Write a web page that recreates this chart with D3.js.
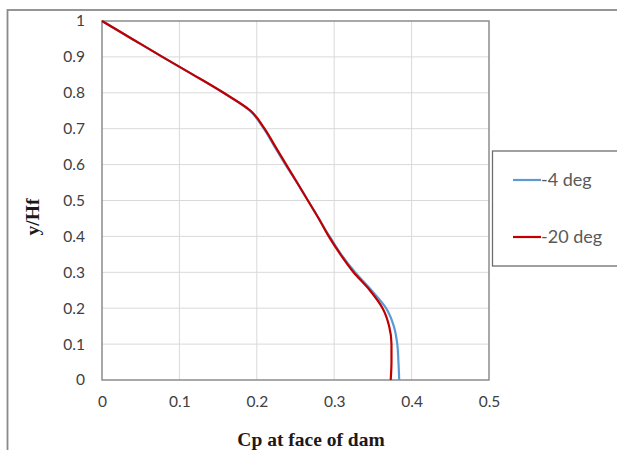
<!DOCTYPE html>
<html>
<head>
<meta charset="utf-8">
<script src="https://cdn.jsdelivr.net/npm/d3@7"></script>
<style>
  body { margin: 0; background: #fff; }
</style>
</head>
<body>
<script>
// y/Hf levels and Cp values
var yLevels = [1, 0.95, 0.9, 0.85, 0.8, 0.75, 0.7, 0.65, 0.6, 0.55, 0.5, 0.45, 0.4, 0.35, 0.3, 0.25, 0.2, 0.15, 0.1, 0.05, 0];
var cpMinus4 = [0, 0.039, 0.078, 0.118, 0.157, 0.191, 0.209, 0.223, 0.237, 0.252, 0.266, 0.280, 0.294, 0.309, 0.327, 0.348, 0.367, 0.377, 0.3815, 0.383, 0.384];
var cpMinus20 = [0, 0.039, 0.078, 0.118, 0.157, 0.192, 0.210, 0.224, 0.238, 0.252, 0.266, 0.280, 0.293, 0.308, 0.325, 0.346, 0.3625, 0.371, 0.374, 0.374, 0.373];
var seriesNames = ['-4 deg', '-20 deg'];
var seriesColors = ['#5b9bd5', '#c00000'];
var xTicks = [0, 0.1, 0.2, 0.3, 0.4, 0.5];
var yTicks = [0, 0.1, 0.2, 0.3, 0.4, 0.5, 0.6, 0.7, 0.8, 0.9, 1];

var width = 617, height = 450;
var tickFont = 'Lato, "Noto Sans", sans-serif';
var titleFont = '"Liberation Serif", "Times New Roman", serif';

var svg = d3.select('body').append('svg')
  .attr('width', width)
  .attr('height', height);

// outer chart frame (runs off the right and bottom)
svg.append('rect')
  .attr('x', 7.5).attr('y', 10)
  .attr('width', 640).attr('height', 480)
  .attr('fill', '#fff')
  .attr('stroke', '#8a8a8a')
  .attr('stroke-width', 1.8);

var x = d3.scaleLinear().domain([0, 0.5]).range([102, 489]);
var y = d3.scaleLinear().domain([0, 1]).range([380, 21]);

// gridlines
svg.append('g').selectAll('line')
  .data(xTicks.slice(1, -1))
  .enter().append('line')
  .attr('x1', function(d) { return x(d); })
  .attr('x2', function(d) { return x(d); })
  .attr('y1', y(0)).attr('y2', y(1))
  .attr('stroke', '#d9d9d9').attr('stroke-width', 1);

svg.append('g').selectAll('line')
  .data(yTicks.slice(1, -1))
  .enter().append('line')
  .attr('x1', x(0)).attr('x2', x(0.5))
  .attr('y1', function(d) { return y(d); })
  .attr('y2', function(d) { return y(d); })
  .attr('stroke', '#d9d9d9').attr('stroke-width', 1);

// plot area border
svg.append('rect')
  .attr('x', x(0)).attr('y', y(1))
  .attr('width', x(0.5) - x(0)).attr('height', y(0) - y(1))
  .attr('fill', 'none')
  .attr('stroke', '#8c8c8c')
  .attr('stroke-width', 1.5);

// axes (labels only, the border draws the lines)
var xAxis = svg.append('g')
  .attr('transform', 'translate(0,' + (y(0) + 13) + ')')
  .call(d3.axisBottom(x).tickValues(xTicks).tickSize(0).tickFormat(d3.format('~g')));
var yAxis = svg.append('g')
  .attr('transform', 'translate(' + (x(0) - 14) + ',0)')
  .call(d3.axisLeft(y).tickValues(yTicks).tickSize(0).tickFormat(d3.format('~g')));

[xAxis, yAxis].forEach(function(g) {
  g.select('.domain').remove();
  g.selectAll('text')
    .attr('font-family', tickFont)
    .attr('font-size', '15.5px')
    .attr('fill', '#404040');
});

// curves
var line = d3.line()
  .x(function(d) { return x(d[0]); })
  .y(function(d) { return y(d[1]); })
  .curve(d3.curveMonotoneY);

[cpMinus4, cpMinus20].forEach(function(vals, i) {
  var pts = vals.map(function(v, j) { return [v, yLevels[j]]; });
  svg.append('path')
    .datum(pts)
    .attr('d', line)
    .attr('fill', 'none')
    .attr('stroke', seriesColors[i])
    .attr('stroke-width', 2.2);
});

// axis titles
svg.append('text')
  .attr('transform', 'translate(39,217) rotate(-90)')
  .attr('text-anchor', 'middle')
  .attr('font-family', titleFont)
  .attr('font-weight', 'bold')
  .attr('font-size', '19.5px')
  .attr('fill', '#1a1a1a')
  .text('y/Hf');

svg.append('text')
  .attr('x', 311).attr('y', 446)
  .attr('text-anchor', 'middle')
  .attr('font-family', titleFont)
  .attr('font-weight', 'bold')
  .attr('font-size', '19.5px')
  .attr('fill', '#1a1a1a')
  .text('Cp at face of dam');

// legend
svg.append('rect')
  .attr('x', 492.5).attr('y', 151)
  .attr('width', 140).attr('height', 115)
  .attr('fill', '#fff')
  .attr('stroke', '#6e6e6e')
  .attr('stroke-width', 1.3);

var legendY = [180, 237];
seriesNames.forEach(function(name, i) {
  svg.append('line')
    .attr('x1', 513).attr('x2', 541)
    .attr('y1', legendY[i]).attr('y2', legendY[i])
    .attr('stroke', seriesColors[i])
    .attr('stroke-width', 2.2);
  svg.append('text')
    .attr('x', 541).attr('y', legendY[i] + 6)
    .attr('font-family', tickFont)
    .attr('font-size', '18px')
    .attr('fill', '#595959')
    .text(name);
});
</script>
</body>
</html>
